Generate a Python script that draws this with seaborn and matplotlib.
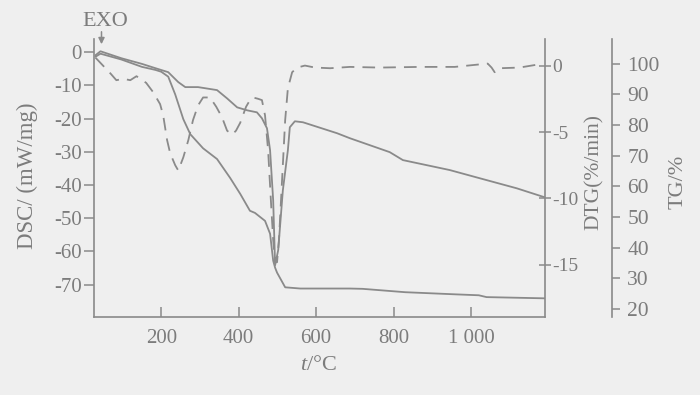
import matplotlib
matplotlib.use("Agg")
import matplotlib.pyplot as plt
import seaborn as sns

# ---- data ----
# DSC curve (left axis, mW/mg)
t_dsc = [30, 43, 97, 150, 185, 218, 244, 262, 295, 344, 370, 396, 422, 447, 460, 473,
         481, 489, 494, 502, 514, 527, 532, 545, 566, 654, 687, 790, 824, 945, 1014,
         1118, 1190]
dsc = [-0.9, 0.3, -1.8, -3.5, -4.8, -6.0, -9.0, -10.5, -10.5, -11.4, -13.9, -16.6,
       -17.5, -18.1, -19.9, -22.9, -29.5, -44.6, -64.2, -59.6, -41.6, -29.5, -22.6,
       -20.8, -21.1, -24.4, -25.9, -30.1, -32.5, -35.5, -37.7, -41.0, -43.7]

# TG curve (outer right axis, %)
t_tg = [30, 43, 97, 150, 185, 200, 218, 236, 257, 275, 308, 344, 378, 404, 429, 442,
        468, 481, 489, 494, 499, 520, 559, 687, 720, 830, 960, 1020, 1040, 1190]
tg = [102.3, 103.3, 101.4, 99.0, 98.0, 97.4, 95.8, 90.0, 81.9, 77.0, 72.4, 68.9,
      62.7, 57.5, 52.0, 51.3, 48.7, 44.5, 35.7, 33.4, 31.8, 27.0, 26.6, 26.6, 26.5,
      25.4, 24.7, 24.4, 23.8, 23.4]

# DTG curve (inner right axis, %/min)
t_dtg = [30, 43, 69, 84, 102, 120, 136, 146, 161, 179, 197, 205, 215, 223, 236, 244,
         257, 270, 282, 295, 308, 326, 342, 357, 370, 383, 393, 404, 419, 429, 437,
         450, 460, 468, 476, 483, 489, 494, 499, 504, 512, 520, 527, 538, 551, 571,
         597, 636, 687, 764, 868, 958, 1043, 1053, 1061, 1074, 1125, 1177]
dtg = [0.6, 0.2, -0.6, -1.1, -1.0, -1.1, -0.8, -1.0, -1.3, -2.0, -2.9, -3.75, -5.6,
       -6.6, -7.5, -7.9, -6.9, -5.6, -4.1, -3.0, -2.4, -2.4, -3.1, -3.9, -4.9, -5.2,
       -4.9, -4.3, -3.1, -2.6, -2.4, -2.5, -2.6, -3.75, -6.4, -10.1, -13.1, -14.8,
       -14.8, -13.1, -8.6, -4.1, -1.7, -0.5, -0.15, 0.0, -0.15, -0.2, -0.1, -0.15,
       -0.1, -0.1, 0.15, -0.15, -0.5, -0.2, -0.15, 0.1]

x_ticks = [200, 400, 600, 800, 1000]
x_labels = ['200', '400', '600', '800', '1 000']
dsc_ticks = [0, -10, -20, -30, -40, -50, -60, -70]
dtg_ticks = [0, -5, -10, -15]
tg_ticks = [20, 30, 40, 50, 60, 70, 80, 90, 100]

# ---- style ----
sns.set_style("ticks")
plt.rcParams['font.family'] = ['Liberation Serif', 'DejaVu Serif']
plt.rcParams['axes.unicode_minus'] = False
plt.rcParams['mathtext.fontset'] = 'custom'
plt.rcParams['mathtext.it'] = 'Liberation Serif:italic'
plt.rcParams['mathtext.rm'] = 'Liberation Serif'

bg = '#efefef'
ink = '#8a8a8a'
txt = '#7c7c7c'

fig = plt.figure(figsize=(7, 3.95), dpi=100, facecolor=bg)
ax = fig.add_axes([93.5 / 700, 1 - 316.7 / 395, (545 - 93.5) / 700, (316.7 - 39) / 395])
ax.set_facecolor(bg)
ax2 = ax.twinx()
ax3 = ax.twinx()

sns.lineplot(x=t_dsc, y=dsc, ax=ax, color=ink, linewidth=1.3)
sns.lineplot(x=t_tg, y=tg, ax=ax3, color=ink, linewidth=1.3)
sns.lineplot(x=t_dtg, y=dtg, ax=ax2, color=ink, linewidth=1.3, linestyle=(0, (7, 4.5)))

ax.set_xlim(25, 1191)
ax.set_ylim(-79.7, 4.0)
ax2.set_ylim(-18.9, 2.0)
ax3.set_ylim(17.4, 108.1)

# spines
for a in (ax, ax2, ax3):
    for s in a.spines.values():
        s.set_color(ink)
        s.set_linewidth(1.2)
    a.spines['top'].set_visible(False)
ax.spines['right'].set_visible(False)
for s in ('left', 'bottom'):
    ax2.spines[s].set_visible(False)
    ax3.spines[s].set_visible(False)
ax3.spines['right'].set_position(('axes', 1 + (612 - 545) / 451.5))

# ticks
ax.set_xticks(x_ticks)
ax.set_xticklabels(x_labels)
ax.tick_params(axis='x', direction='in', length=7, width=1.1, color=ink,
               labelcolor=txt, labelsize=15, pad=9)
ax.set_yticks(dsc_ticks)
ax.tick_params(axis='y', direction='out', length=7, width=1.1, color=ink,
               labelcolor=txt, labelsize=15, pad=1.5)
ax2.set_yticks(dtg_ticks)
ax2.tick_params(axis='y', direction='inout', length=8, width=1.1, color=ink,
                labelcolor=txt, labelsize=14, pad=1)
ax3.set_yticks(tg_ticks)
ax3.tick_params(axis='y', direction='out', length=6, width=1.1, color=ink,
                labelcolor=txt, labelsize=15.5, pad=5)

ax.set_xlabel('')
ax.set_ylabel('')
ax2.set_ylabel('')
ax3.set_ylabel('')

# axis titles
fig.text(27 / 700, 1 - 176 / 395, 'DSC/ (mW/mg)', rotation=90, ha='center',
         va='center', fontsize=16.5, color=txt)
fig.text(594 / 700, 1 - 172 / 395, 'DTG(%/min)', rotation=90, ha='center',
         va='center', fontsize=15.5, color=txt)
fig.text(678 / 700, 1 - 182 / 395, 'TG/%', rotation=90, ha='center',
         va='center', fontsize=16, color=txt)
fig.text(318 / 700, 1 - 366 / 395, '$t$/°C', ha='center', va='center',
         fontsize=16, color=txt)

# EXO marker
fig.text(105 / 700, 1 - 22 / 395, 'EXO', ha='center', va='center',
         fontsize=16, color=txt)
fig.add_artist(matplotlib.patches.FancyArrowPatch(
    (101.5 / 700, 1 - 29 / 395), (101.5 / 700, 1 - 47 / 395),
    transform=fig.transFigure, arrowstyle='-|>', mutation_scale=9,
    color=ink, linewidth=1.1))

fig.savefig('out.png', dpi=100, facecolor=bg)
